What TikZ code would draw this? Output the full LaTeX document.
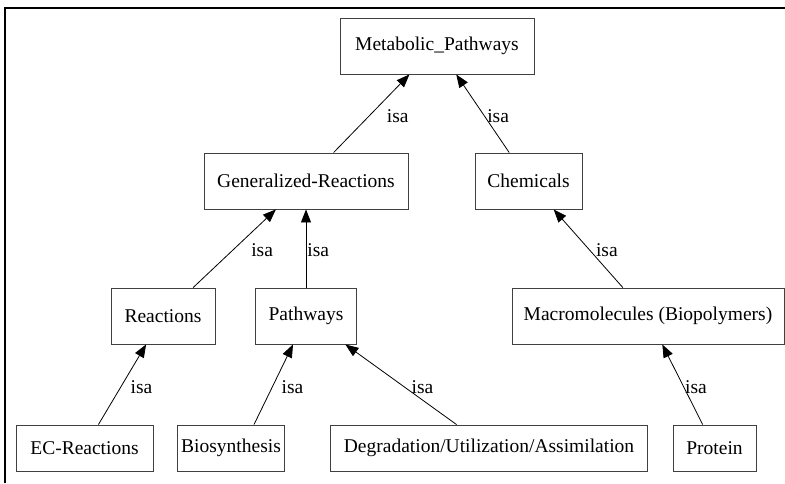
\documentclass[tikz,border=0pt]{standalone}
\usepackage{fontspec}
\setmainfont{Liberation Serif}
\usetikzlibrary{arrows.meta}

\tikzstyle{concept} = [
    rectangle,
    minimum height=56pt, inner sep=0pt,
    text centered, draw=black!75, line width=0.9pt
]
\tikzstyle{leaf} = [concept, minimum height=46pt]
\tikzstyle{arrow} = [line width=0.8pt, -{Triangle[length=13pt,width=10pt]}]
\tikzstyle{isa} = [inner sep=0pt, anchor=west]

\begin{document}
\begin{tikzpicture}[x=1pt, y=-1pt, node distance=135pt,
    font=\fontsize{19.5pt}{23pt}\selectfont]
    \useasboundingbox (0,0) rectangle (785,483);
    \draw [line width=2.5pt] (5,483) -- (5,8) -- (785,8);

    \node (meta) [concept, minimum width=194pt] at (437,46) {Metabolic\_Pathways};
    \node (genreac) [concept, minimum width=204pt, below of=meta, xshift=-131pt] {Generalized-Reactions};
    \node (chem) [concept, minimum width=107pt, below of=meta, xshift=91.5pt] {Chemicals};
    \node (reac) [concept, minimum width=104pt, below of=genreac, xshift=-143pt] {Reactions};
    \node (path) [concept, minimum width=101pt, below of=genreac] {Pathways};
    \node (macro) [concept, minimum width=272pt, below of=chem, xshift=119.5pt] {Macromolecules (Biopolymers)};
    \node (ecreac) [leaf, minimum width=137pt, below of=reac, xshift=-78.5pt, yshift=3pt] {EC-Reactions};
    \node (bio) [leaf, minimum width=107pt, below of=path, xshift=-75pt, yshift=3pt] {Biosynthesis};
    \node (degr) [leaf, minimum width=317pt, below of=path, xshift=183pt, yshift=3pt] {Degradation/Utilization/Assimilation};
    \node (prot) [leaf, minimum width=83pt, below of=macro, xshift=66.5pt, yshift=3pt] {Protein};

    \draw [arrow] (genreac) -- (meta) node [isa, pos=0.46, xshift=18pt] {isa};
    \draw [arrow] (chem) -- (meta) node [isa, pos=0.46, xshift=2pt] {isa};
    \draw [arrow] (reac) -- (genreac) node [isa, pos=0.48, xshift=18pt] {isa};
    \draw [arrow] (path) -- (genreac) node [isa, pos=0.48, xshift=1pt] {isa};
    \draw [arrow] (ecreac) -- (reac) node [isa, pos=0.47, xshift=9.5pt] {isa};
    \draw [arrow] ([xshift=23pt]bio.north) -- ([xshift=-13pt]path.south) node [isa, pos=0.47, xshift=9pt] {isa};
    \draw [arrow] (degr) -- (path) node [isa, pos=0.47, xshift=7pt] {isa};
    \draw [arrow] (macro) -- (chem) node [isa, pos=0.48, xshift=6pt] {isa};
    \draw [arrow] (prot) -- (macro) node [isa, pos=0.47, xshift=1pt] {isa};
\end{tikzpicture}
\end{document}
